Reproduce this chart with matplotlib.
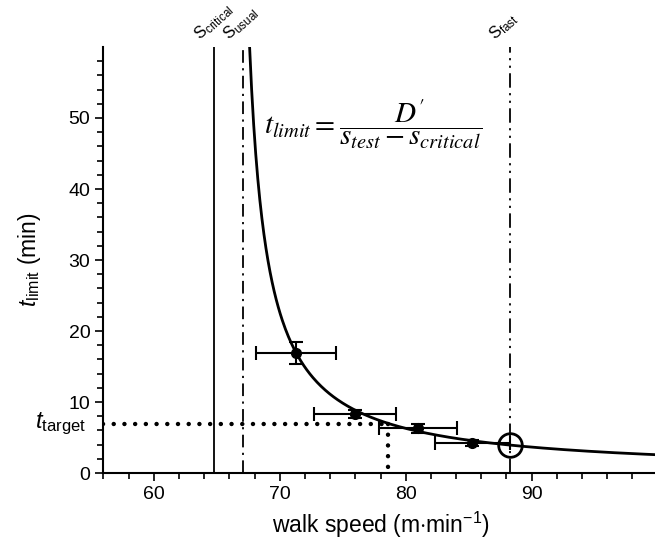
import numpy as np
import matplotlib
matplotlib.use("Agg")
import matplotlib.pyplot as plt

plt.rcParams["font.family"] = ["Liberation Sans", "DejaVu Sans"]
plt.rcParams["mathtext.fontset"] = "custom"
plt.rcParams["mathtext.it"] = "Liberation Sans:italic"
plt.rcParams["mathtext.rm"] = "Liberation Sans"

# measured walk tests (speed, time to limit) with error bars
speed = [71.3, 76.0, 81.0, 85.3]
speed_err = [3.2, 3.25, 3.1, 3.0]
tlim = [16.9, 8.3, 6.3, 4.2]
tlim_err = [1.55, 0.6, 0.6, 0.4]

# hyperbolic fit t = D' / (s - s_asym)
D_prime = 87.1
s_asym = 66.15

# reference speeds
s_critical = 64.8
s_usual = 67.1
s_fast = 88.25
t_target = 6.9
s_target = 78.6

fig = plt.figure(figsize=(6.55, 5.4), dpi=100)
ax = fig.add_axes([0.158, 0.124, 0.846, 0.789])

s_curve = np.linspace(s_asym + D_prime / 60.0, 100, 400)
ax.plot(s_curve, D_prime / (s_curve - s_asym), color="black", lw=2, zorder=4)

ax.errorbar(speed, tlim, xerr=speed_err, yerr=tlim_err, fmt="o", color="black",
            ms=7, elinewidth=1.5, capsize=5, capthick=1.5, zorder=3)

ax.plot([s_fast], [D_prime / (s_fast - s_asym)], "o", mfc="none", mec="black",
        ms=17, mew=2, zorder=5)

ax.axvline(s_critical, color="black", lw=1.3)
ax.axvline(s_usual, color="black", lw=1.3, ls=(0, (7, 3, 1.2, 3)))
ax.axvline(s_fast, color="black", lw=1.3, ls=(0, (8, 3, 1.2, 3, 1.2, 3)))

dot_kw = dict(color="black", lw=3.2, ls=(0, (0.01, 2.4)), dash_capstyle="round", zorder=2)
ax.plot([56, s_target], [t_target, t_target], **dot_kw)
ax.plot([s_target, s_target], [t_target, 0], **dot_kw)

for x, sub in [(s_critical, "critical"), (s_usual, "usual"), (s_fast, "fast")]:
    ax.text(x - 0.9, 60.4, r"S$_{\mathrm{%s}}$" % sub, rotation=42, fontsize=12,
            ha="left", va="bottom", rotation_mode="anchor", clip_on=False)

ax.text(56 - 1.4, t_target, r"$t$$_{\mathrm{target}}$", fontsize=17, ha="right", va="center")

ax.text(77.4, 49.2, r"$t_{limit} = \dfrac{D^{\prime}}{s_{test} - s_{critical}}$",
        fontsize=21, ha="center", va="center", math_fontfamily="stix")

ax.set_xlim(56, 100)
ax.set_ylim(0, 60)
ax.set_xticks([60, 70, 80, 90])
ax.set_xticks(np.arange(56, 101, 2), minor=True)
ax.set_yticks([0, 10, 20, 30, 40, 50])
ax.set_yticks(np.arange(0, 59, 2), minor=True)
ax.tick_params(which="major", length=6, width=1.2, labelsize=14, direction="out")
ax.tick_params(which="minor", length=4, width=1.2, direction="out")
for side in ["top", "right"]:
    ax.spines[side].set_visible(False)
for side in ["left", "bottom"]:
    ax.spines[side].set_linewidth(1.5)

ax.set_xlabel(r"walk speed (m$\cdot$min$^{-1}$)", fontsize=16.5, labelpad=5)
ax.set_ylabel(r"$t$$_{\mathrm{limit}}$ (min)", fontsize=16.5, labelpad=18)

fig.savefig("out.png", dpi=100)
